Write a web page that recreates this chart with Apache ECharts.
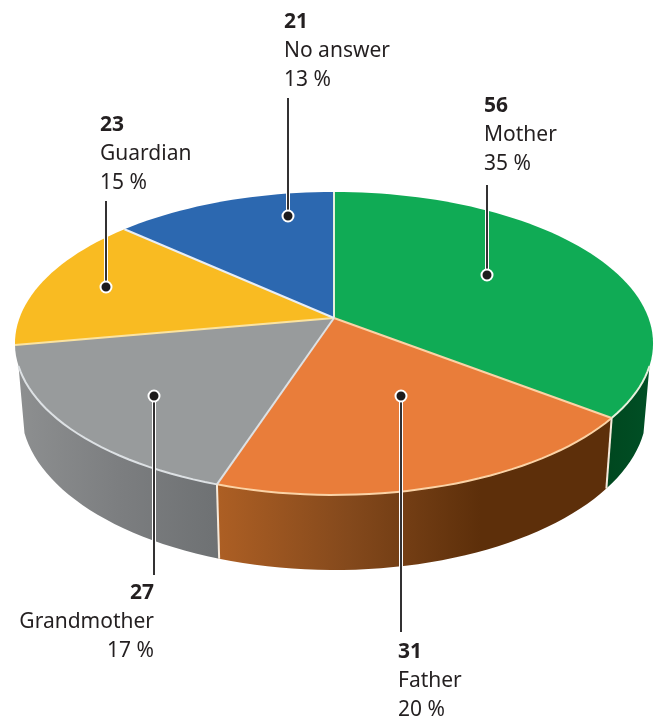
<!DOCTYPE html>
<html>
<head>
<meta charset="utf-8">
<style>
  html, body { margin: 0; padding: 0; background: #fff; }
  #chart { width: 657px; height: 718px; }
</style>
<script src="https://cdn.jsdelivr.net/npm/echarts@6/dist/echarts.min.js"></script>
</head>
<body>
<div id="chart"></div>
<script>
const categories = ['Mother', 'Father', 'Grandmother', 'Guardian', 'No answer']
const counts = [56, 31, 27, 23, 21]
const percents = [35, 20, 17, 15, 13]

const topColors = ['#10ab55', '#e97d3a', '#989b9c', '#f9bb22', '#2c68b0']
const edgeColors = ['#e6f0dc', '#fbd3a6', '#dde1e4', '#fbe3a0', '#e8eef6']
const wallColors = [
  ['#00471f', '#004f25'],
  ['#ad5f24', '#84491c', '#5d2f0a', '#5d2f0a'],
  ['#8d8f90', '#7c7e80', '#6e7173'],
  null,
  null
]

// where each leader dot sits, where its line stops, and where its text starts
const dots = [[487, 275], [401, 396], [154, 396], [106, 287], [288, 216]]
const lineEnds = [185, 632, 575, 201, 98]
const textAt = [[484, 92], [398, 638], [154, 579], [100, 111], [284, 8]]
const textAlign = ['left', 'left', 'right', 'left', 'left']

// perspective of the tilted disc, angle 0 is top and runs clockwise
const cx = 334
const cy = 318
const persp = -0.168
const scaleX = 314.5
const scaleY = 147.2
const wallFrom = 108
const wallTo = 252

const total = counts.reduce((a, b) => a + b, 0)

function rim(deg) {
  const r = deg * Math.PI / 180
  const X = Math.sin(r)
  const Y = -Math.cos(r)
  const d = 1 + persp * Y
  return [scaleX * X / d, scaleY * Y / d]
}
function topPoint(deg) {
  const p = rim(deg)
  return [cx + p[0], cy + p[1]]
}
function bottomPoint(deg) {
  const p = rim(deg)
  return [cx + p[0] * 0.981, 409 + (p[1] - 25) * 1.06]
}
function arc(fn, a, b) {
  const pts = []
  const n = Math.max(2, Math.ceil(Math.abs(b - a) / 2))
  for (let i = 0; i <= n; i++) {
    pts.push(fn(a + (b - a) * i / n))
  }
  return pts
}
function sliceAngles(i) {
  let before = 0
  for (let k = 0; k < i; k++) before += counts[k]
  return [before / total * 360, (before + counts[i]) / total * 360]
}

function renderSlice(params, api) {
  const i = params.dataIndex
  const a = sliceAngles(i)
  const children = []
  const wa = Math.max(a[0], wallFrom)
  const wb = Math.min(a[1], wallTo)
  if (wb > wa && wallColors[i]) {
    const stops = wallColors[i].map((c, k, all) => ({ offset: k / (all.length - 1), color: c }))
    children.push({
      type: 'polygon',
      shape: { points: arc(topPoint, wa, wb).concat(arc(bottomPoint, wb, wa)) },
      style: { fill: new echarts.graphic.LinearGradient(0, 0, 1, 0, stops) }
    })
  }
  children.push({
    type: 'polygon',
    shape: { points: [[cx, cy]].concat(arc(topPoint, a[0], a[1])) },
    style: { fill: topColors[i] }
  })
  // front rim highlight, only where a wall is below it
  if (wb > wa && wallColors[i]) {
    children.push({
      type: 'polyline',
      shape: { points: arc(topPoint, wa, wb) },
      style: { fill: 'none', stroke: edgeColors[i], lineWidth: 2 }
    })
  }
  return { type: 'group', children: children }
}

function renderSpoke(params, api) {
  const i = params.dataIndex
  const a = sliceAngles(i)
  const t = topPoint(a[0])
  const children = [{
    type: 'line',
    shape: { x1: cx, y1: cy, x2: t[0], y2: t[1] },
    style: { stroke: edgeColors[i], lineWidth: 2 }
  }]
  if (a[0] > wallFrom && a[0] < wallTo) {
    const b = bottomPoint(a[0])
    children.push({
      type: 'line',
      shape: { x1: t[0], y1: t[1], x2: b[0], y2: b[1] },
      style: { stroke: '#f6eadc', lineWidth: 2 }
    })
  }
  return { type: 'group', children: children }
}

function renderLeader(params, api) {
  const i = params.dataIndex
  const dot = dots[i]
  const font = '"Noto Sans", sans-serif'
  return {
    type: 'group',
    children: [
      {
        type: 'line',
        shape: { x1: dot[0], y1: dot[1], x2: dot[0], y2: lineEnds[i] },
        style: { stroke: '#fff', lineWidth: 4 }
      },
      {
        type: 'line',
        shape: { x1: dot[0], y1: dot[1], x2: dot[0], y2: lineEnds[i] },
        style: { stroke: '#333132', lineWidth: 2 }
      },
      {
        type: 'circle',
        shape: { cx: dot[0], cy: dot[1], r: 5.5 },
        style: { fill: '#1d1b1c', stroke: '#fff', lineWidth: 2 }
      },
      {
        type: 'text',
        x: textAt[i][0],
        y: textAt[i][1],
        style: {
          text: '{n|' + api.value(0) + '}\n{t|' + categories[i] + '}\n{t|' + percents[i] + ' %}',
          align: textAlign[i],
          verticalAlign: 'top',
          rich: {
            n: { fontFamily: font, fontSize: 21, fontWeight: 'bold', lineHeight: 29, fill: '#231f20', align: textAlign[i] },
            t: { fontFamily: font, fontSize: 21, lineHeight: 29, fill: '#231f20', align: textAlign[i] }
          }
        }
      }
    ]
  }
}

const chart = echarts.init(document.getElementById('chart'))
chart.setOption({
  animation: false,
  backgroundColor: '#fff',
  tooltip: { show: false },
  series: [
    { type: 'custom', coordinateSystem: 'none', silent: true, z: 1, data: counts, renderItem: renderSlice },
    { type: 'custom', coordinateSystem: 'none', silent: true, z: 2, data: counts, renderItem: renderSpoke },
    { type: 'custom', coordinateSystem: 'none', silent: true, z: 3, data: counts, renderItem: renderLeader }
  ]
})
</script>
</body>
</html>
